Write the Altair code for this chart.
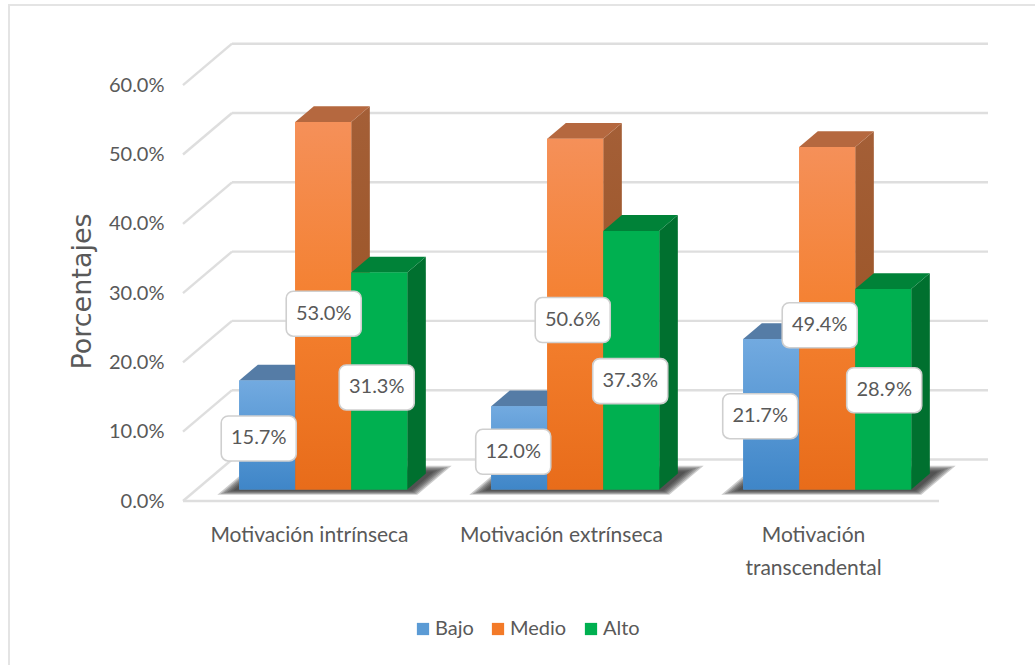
import json
import altair as alt
import pandas as pd

# Survey results: share of respondents per level, for each motivation type
categories = ["Motivación intrínseca", "Motivación extrínseca", ["Motivación", "transcendental"]]
levels = ["Bajo", "Medio", "Alto"]
bajo = [15.7, 12.0, 21.7]
medio = [53.0, 50.6, 49.4]
alto = [31.3, 37.3, 28.9]
percent_ticks = [0, 10, 20, 30, 40, 50, 60]
series = {"Bajo": bajo, "Medio": medio, "Alto": alto}

# Pixel sizes of the drawing and of one scale unit
W, H = 1035, 665
STEP = 252.0            # px per category
UNIT = 6.93             # px per percentage point
ORIGIN_X, ORIGIN_Y = 309.0, 501.0

# Oblique projection: moving fully to the back wall shifts right and up
DEPTH_X = 49.0 / STEP
DEPTH_Y = 41.5 / UNIT
BAR_FRONT, BAR_BACK = 0.28, 0.66
BAR_W = 56.0 / STEP
BAR_SHIFT = 0.5 / STEP
FLOOR_RIGHT = 2.5

x_scale = alt.Scale(domain=[-ORIGIN_X / STEP, (W - ORIGIN_X) / STEP], range=[0, W], nice=False, zero=False)
y_scale = alt.Scale(domain=[-(H - ORIGIN_Y) / UNIT, ORIGIN_Y / UNIT], range=[H, 0], nice=False, zero=False)

FONT = "Lato"
TEXT = "#595959"
GRID = "#dedede"

label_expr = "%s[datum.value]" % json.dumps(categories, ensure_ascii=False)
x_axis = alt.Axis(
    orient="bottom", values=[0, 1, 2], labelExpr=label_expr, domain=False, ticks=False, grid=False,
    title=None, offset=-141, labelPadding=0, labelFont=FONT, labelFontSize=21, labelColor=TEXT, labelLimit=400,
    labelLineHeight=33, labelOverlap=False, labelFlush=False, labelBaseline="top",
)
y_axis = alt.Axis(
    orient="left", values=percent_ticks, labelExpr="format(datum.value, '.1f') + '%'", domain=False,
    ticks=False, grid=False, offset=-164, labelPadding=0, labelFont=FONT, labelFontSize=20,
    labelColor=TEXT, title="Porcentajes", titleFont="DejaVu Sans", titleFontSize=27, titleFontWeight="normal",
    titleColor=TEXT, titleAngle=270, titleX=-82, titleY=291, titleAlign="center", titleBaseline="middle",
)


def gx(field, **kw):
    return alt.X(field, type="quantitative", scale=x_scale, axis=x_axis, **kw)


def gy(field, **kw):
    return alt.Y(field, type="quantitative", scale=y_scale, axis=y_axis, **kw)


def linear(*stops):
    return {
        "gradient": "linear", "x1": 0, "y1": 0, "x2": 0, "y2": 1,
        "stops": [{"offset": o, "color": c} for o, c in stops],
    }


# Wall and floor lines
grid_rows = []
for v in percent_ticks:
    back_y = v + DEPTH_Y
    grid_rows.append({"x": -0.5 + DEPTH_X, "x2": FLOOR_RIGHT + DEPTH_X, "y": back_y, "y2": back_y})
    grid_rows.append({"x": -0.5, "x2": -0.5 + DEPTH_X, "y": v, "y2": back_y})
grid_rows.append({"x": -0.5, "x2": FLOOR_RIGHT, "y": 0, "y2": 0})

grid = alt.Chart(pd.DataFrame(grid_rows)).mark_rule(color=GRID, strokeWidth=2.4).encode(
    x=gx("x"), x2="x2:Q", y=gy("y"), y2="y2:Q",
)

# Geometry of each bar's faces, read from the series values
front_rows, side_rows, top_rows = [], [], []
offsets = {"Bajo": -1, "Medio": 0, "Alto": 1}
for level in levels:
    for c, value in enumerate(series[level]):
        left = c + offsets[level] * BAR_W - BAR_W / 2 + BAR_SHIFT
        fx0 = left + BAR_FRONT * DEPTH_X
        fx1 = fx0 + BAR_W
        fy0 = BAR_FRONT * DEPTH_Y
        shift_x = (BAR_BACK - BAR_FRONT) * DEPTH_X
        shift_y = (BAR_BACK - BAR_FRONT) * DEPTH_Y
        front_rows.append({"level": level, "cat": c, "x": fx0, "x2": fx1, "y": fy0, "y2": fy0 + value, "value": value})
        side_rows += [
            {"level": level, "cat": c, "x": fx1, "y": fy0, "y2": fy0 + value},
            {"level": level, "cat": c, "x": fx1 + shift_x, "y": fy0 + shift_y, "y2": fy0 + shift_y + value},
        ]
        top_rows += [
            {"level": level, "cat": c, "y": fy0 + value, "x": fx0, "x2": fx1},
            {"level": level, "cat": c, "y": fy0 + value + shift_y, "x": fx0 + shift_x, "x2": fx1 + shift_x},
        ]
front_df, side_df, top_df = pd.DataFrame(front_rows), pd.DataFrame(side_rows), pd.DataFrame(top_rows)

# Flat bars carry the legend; the shaded faces go on top of them
flat = alt.Chart(front_df).mark_rect().encode(
    x=gx("x"), x2="x2:Q", y=gy("y"), y2="y2:Q",
    color=alt.Color(
        "level:N",
        scale=alt.Scale(domain=levels, range=["#5b9bd5", "#f37a28", "#00b050"]),
        legend=alt.Legend(
            orient="none", legendX=413, legendY=619, direction="horizontal", title=None, symbolType="square",
            symbolSize=150, symbolStrokeWidth=0, labelFont=FONT, labelFontSize=20, labelColor=TEXT, labelOffset=2,
            columnPadding=14,
        ),
    ),
)

# Soft floor shadow made of nested translucent footprints
shadow_layers = []
for step in range(6):
    grow = (5 - step) / 5.0
    rows = []
    for c in range(3):
        x_left = c - 1.5 * BAR_W - (4 + 11 * grow) / STEP
        x_right = c + 1.5 * BAR_W + (6 + 11 * grow) / STEP
        near = BAR_FRONT - (0.03 + 0.1 * grow)
        far = BAR_BACK + (0.05 + 0.14 * grow)
        for d in (near, far):
            rows.append({"cat": c, "y": d * DEPTH_Y, "x": x_left + d * DEPTH_X, "x2": x_right + d * DEPTH_X})
    shadow_layers.append(
        alt.Chart(pd.DataFrame(rows)).mark_area(orient="horizontal", color="#2b2b2b", opacity=0.24).encode(
            y=gy("y", stack=None), x=gx("x"), x2="x2:Q", detail="cat:N"
        )
    )

front_fill = {
    "Bajo": linear((0, "#72aae0"), (1, "#3f86c8")),
    "Medio": linear((0, "#f59059"), (0.5, "#f4802f"), (1, "#e86c1a")),
    "Alto": linear((0, "#00b050"), (1, "#00b050")),
}
side_fill = {
    "Bajo": "#3a6a98",
    "Medio": linear((0, "#a45f37"), (1, "#964f1e")),
    "Alto": "#00702f",
}
top_fill = {"Bajo": "#557ca6", "Medio": "#b5683f", "Alto": "#008238"}

bar_layers = []
for level in levels:
    side = alt.Chart(side_df[side_df.level == level]).mark_area(orient="vertical", color=side_fill[level]).encode(
        x=gx("x"), y=gy("y", stack=None), y2="y2:Q", detail="cat:N"
    )
    top = alt.Chart(top_df[top_df.level == level]).mark_area(orient="horizontal", color=top_fill[level]).encode(
        y=gy("y", stack=None), x=gx("x"), x2="x2:Q", detail="cat:N"
    )
    front = alt.Chart(front_df[front_df.level == level]).mark_rect(color=front_fill[level]).encode(
        x=gx("x"), x2="x2:Q", y=gy("y"), y2="y2:Q"
    )
    bar_layers += [side, top, front]

# Callouts sit near the middle of each bar, nudged (in px) so they stay readable
nudges = {
    ("Bajo", 0): (-8.5, 3.5), ("Medio", 0): (0.5, 8), ("Alto", 0): (-2.5, 6.5),
    ("Bajo", 1): (-6, 4), ("Medio", 1): (-2.5, 6), ("Alto", 1): (-1, 21),
    ("Bajo", 2): (-11, 2), ("Medio", 2): (-7.5, 7), ("Alto", 2): (1, 1),
}
BOX_W, BOX_H = 75.0, 45.0
label_rows = []
for row in front_rows:
    nx, ny = nudges[(row["level"], row["cat"])]
    cx = (row["x"] + row["x2"]) / 2 + nx / STEP
    cy = row["y"] + row["value"] / 2 - ny / UNIT
    label_rows.append({
        "cx": cx, "cy": cy, "x": cx - BOX_W / 2 / STEP, "x2": cx + BOX_W / 2 / STEP,
        "y": cy - BOX_H / 2 / UNIT, "y2": cy + BOX_H / 2 / UNIT, "text": f"{row['value']:.1f}%",
    })
label_df = pd.DataFrame(label_rows)

boxes = alt.Chart(label_df).mark_rect(
    fill="white", stroke="#cfcfcf", strokeWidth=1.6, cornerRadius=7
).encode(x=gx("x"), x2="x2:Q", y=gy("y"), y2="y2:Q")
box_text = alt.Chart(label_df).mark_text(
    font=FONT, fontSize=20, color=TEXT, align="center", baseline="middle"
).encode(x=gx("cx"), y=gy("cy"), text="text:N")

# Frame along the top and left of the chart area
frame_left = alt.Chart(pd.DataFrame({"k": [0]})).mark_rule(color="#e4e4e4", strokeWidth=2).encode(
    x=alt.value(9), y=alt.value(5), y2=alt.value(H)
)
frame_top = alt.Chart(pd.DataFrame({"k": [0]})).mark_rule(color="#e4e4e4", strokeWidth=2).encode(
    x=alt.value(8), x2=alt.value(W), y=alt.value(5)
)

chart = alt.layer(
    frame_left, frame_top, grid, *shadow_layers, flat, *bar_layers, boxes, box_text
).properties(
    width=W, height=H, padding=0, background="white",
    autosize=alt.AutoSizeParams(type="none"),
).configure_view(stroke=None)

chart.save("out.html", embed_options={"renderer": "svg", "actions": False})
